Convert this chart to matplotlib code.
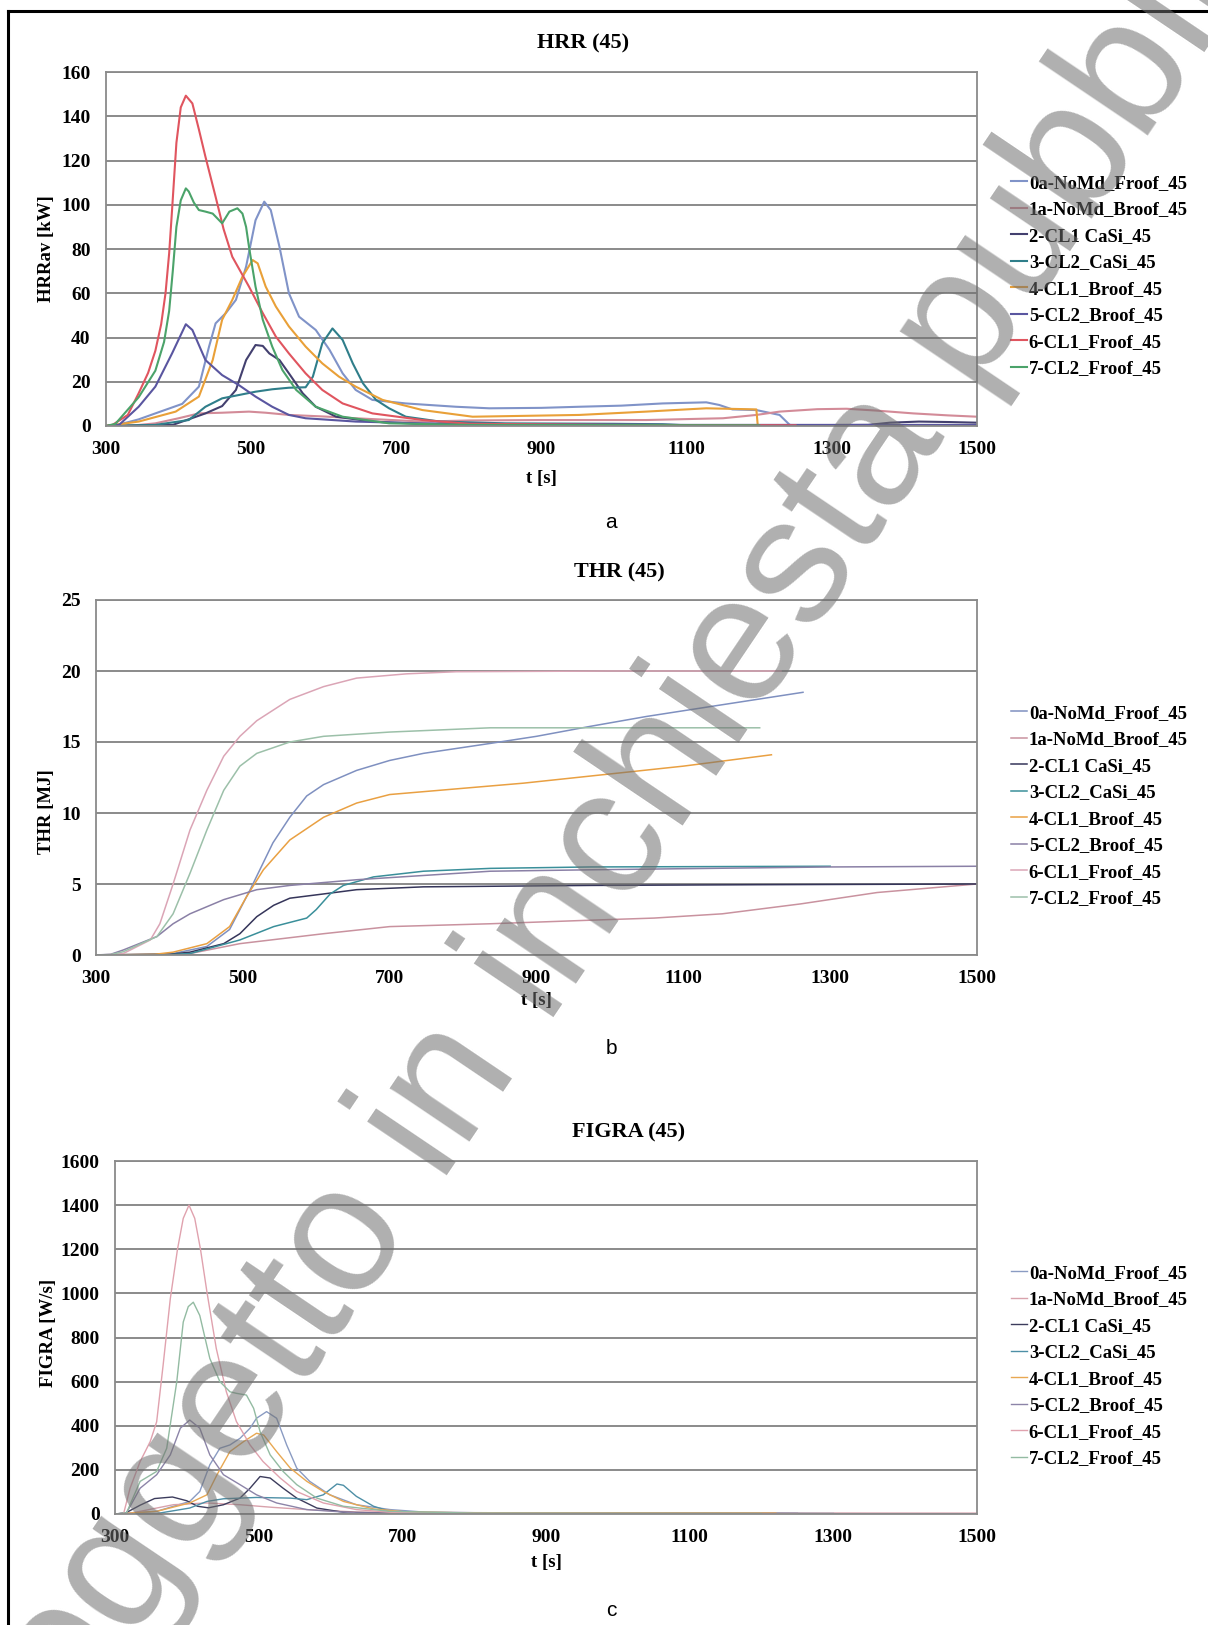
import matplotlib
matplotlib.use("Agg")
import matplotlib.pyplot as plt
from matplotlib.lines import Line2D

# ---- data: (t [s], value) pairs per specimen ----
labels = ["0a-NoMd_Froof_45", "1a-NoMd_Broof_45", "2-CL1 CaSi_45", "3-CL2_CaSi_45",
          "4-CL1_Broof_45", "5-CL2_Broof_45", "6-CL1_Froof_45", "7-CL2_Froof_45"]

# HRRav [kW]
hrr_0a = [(300, 0), (322, 1), (345, 3), (368, 5.7), (405, 10), (428, 17.8), (442, 35.9), (451, 46.4),
          (465, 51), (479, 57), (493, 72), (506, 93), (518, 101.4), (527, 97.6), (539, 81), (552, 60),
          (566, 49.4), (589, 43.4), (608, 34.4), (626, 23.8), (644, 16.3), (667, 11.8), (713, 10.2),
          (782, 8.7), (828, 8), (900, 8.2), (952, 8.7), (1010, 9.2), (1067, 10.2), (1127, 10.7),
          (1145, 9.5), (1163, 7.5), (1196, 7.2), (1228, 5), (1242, 0.5), (1260, 0)]
hrr_1a = [(300, 0), (340, 0.3), (368, 1.2), (400, 3.5), (428, 5.7), (460, 6), (497, 6.5), (520, 6),
          (552, 5), (600, 4.3), (644, 3.5), (700, 2.6), (736, 2), (800, 2.5), (900, 2.7), (1044, 2.7),
          (1150, 3.5), (1196, 5), (1228, 6.5), (1280, 7.6), (1320, 7.8), (1360, 7), (1412, 5.7),
          (1460, 4.8), (1500, 4.2)]
hrr_2 = [(300, 0), (360, 0.3), (392, 0.5), (437, 5.7), (460, 9), (479, 16.3), (493, 29.8), (506, 36.6),
         (516, 36.2), (525, 32.8), (539, 29.8), (552, 23.8), (571, 14.8), (589, 8.7), (617, 4.2),
         (667, 2), (736, 0.9), (900, 0.5), (1200, 0.3), (1350, 0.5), (1380, 1.5), (1420, 2),
         (1460, 1.8), (1500, 1.5)]
hrr_3 = [(300, 0), (368, 0.5), (414, 2.7), (437, 8.7), (460, 12.5), (483, 14), (506, 15.5), (529, 16.6),
         (552, 17.3), (575, 17.5), (585, 22.3), (598, 37.4), (612, 44.1), (626, 38.9), (640, 28.3),
         (654, 19.3), (672, 11.8), (690, 8), (713, 4.2), (760, 2), (850, 1.2), (1000, 1), (1067, 0.8),
         (1100, 0.3), (1300, 0.3)]
hrr_4 = [(300, 0), (345, 2), (396, 6.5), (428, 13.3), (447, 29.8), (460, 48), (474, 57), (488, 67.5),
         (502, 75), (509, 73.5), (520, 63), (534, 54), (552, 45), (575, 35.9), (598, 28.3), (621, 22.3),
         (644, 17.8), (681, 11.8), (736, 7.2), (805, 4.2), (860, 4.5), (952, 5), (1044, 6.5),
         (1127, 8), (1196, 7.5), (1198, 0), (1220, 0)]
hrr_5 = [(300, 0), (318, 0.5), (345, 8.7), (368, 17.8), (391, 32.8), (410, 46), (419, 43.4), (437, 29.8),
         (460, 23), (483, 18.5), (506, 13.3), (529, 8.7), (552, 5), (575, 3.5), (644, 2), (736, 1.2),
         (900, 0.8), (1100, 0.5), (1500, 0.5)]
hrr_6 = [(300, 0), (309, 0.5), (330, 5), (345, 14.8), (358, 24), (368, 34), (376, 46), (382, 60),
         (387, 78), (391, 97.6), (397, 128), (403, 144), (410, 149.3), (419, 145.8), (428, 134),
         (437, 121.7), (451, 103.6), (462, 89), (474, 76.5), (497, 63), (516, 51), (534, 40.4),
         (552, 32.8), (575, 23.8), (598, 16.3), (626, 10.2), (667, 5.7), (736, 2.7), (800, 1),
         (1000, 0.5), (1250, 0.3)]
hrr_7 = [(300, 0), (313, 1), (345, 13), (368, 25), (380, 38), (387, 52), (392, 70), (397, 90),
         (403, 102), (410, 107.4), (414, 106), (421, 101), (428, 97.6), (437, 96.9), (447, 96),
         (460, 91.6), (470, 96.9), (481, 98.4), (488, 96), (493, 90), (497, 81), (506, 63), (516, 48),
         (529, 35.9), (543, 25.3), (562, 16.3), (589, 8.7), (626, 4.2), (690, 1.2), (800, 0.5),
         (1200, 0.3)]

# THR [MJ]
thr_0a = [(300, 0), (360, 0.05), (405, 0.1), (451, 0.6), (482, 1.8), (510, 4.6), (541, 7.9), (564, 9.7),
          (587, 11.2), (610, 12), (655, 13), (700, 13.7), (746, 14.2), (837, 14.9), (900, 15.4),
          (973, 16.1), (1050, 16.8), (1150, 17.6), (1263, 18.5)]
thr_1a = [(300, 0), (380, 0.02), (428, 0.1), (496, 0.8), (610, 1.5), (700, 2), (837, 2.2), (973, 2.45),
          (1060, 2.6), (1153, 2.9), (1260, 3.6), (1364, 4.4), (1500, 5.0)]
thr_2 = [(300, 0), (400, 0.05), (428, 0.2), (474, 0.8), (496, 1.5), (519, 2.7), (542, 3.5), (564, 4),
         (610, 4.3), (655, 4.6), (746, 4.8), (973, 4.9), (1200, 4.95), (1500, 5.0)]
thr_3 = [(300, 0), (400, 0.03), (428, 0.1), (496, 1.06), (542, 2), (587, 2.6), (600, 3.2), (619, 4.3),
         (637, 4.9), (678, 5.5), (746, 5.9), (837, 6.1), (973, 6.2), (1300, 6.25)]
thr_4 = [(300, 0), (380, 0.05), (405, 0.2), (451, 0.8), (482, 2), (505, 4.1), (528, 6), (564, 8.1),
         (610, 9.7), (655, 10.7), (700, 11.3), (791, 11.7), (882, 12.1), (973, 12.6), (1100, 13.3),
         (1220, 14.1)]
thr_5 = [(300, 0), (320, 0.05), (337, 0.35), (383, 1.3), (405, 2.2), (428, 2.9), (474, 3.9), (519, 4.6),
         (564, 4.9), (655, 5.3), (746, 5.6), (837, 5.9), (973, 6.0), (1300, 6.2), (1500, 6.25)]
thr_6 = [(300, 0), (320, 0.03), (337, 0.1), (374, 1.06), (387, 2.2), (405, 5), (428, 8.8), (451, 11.6),
         (474, 14), (496, 15.4), (519, 16.5), (564, 18), (610, 18.9), (655, 19.5), (723, 19.8),
         (791, 19.95), (1000, 20), (1233, 20)]
thr_7 = [(300, 0), (320, 0.03), (337, 0.23), (383, 1.3), (405, 2.9), (428, 5.75), (451, 8.8), (474, 11.6),
         (496, 13.3), (519, 14.2), (564, 15), (610, 15.4), (700, 15.7), (837, 16), (973, 16), (1204, 16)]

# FIGRA [W/s]
fig_0a = [(300, 0), (358, 12), (404, 57), (418, 102), (432, 223), (446, 298), (460, 313), (474, 343),
          (488, 389), (497, 434), (511, 464), (525, 434), (539, 313), (553, 208), (571, 148), (599, 87),
          (636, 42), (683, 20), (729, 9), (800, 6), (1000, 5), (1250, 4)]
fig_1a = [(300, 0), (320, 3), (335, 12), (381, 42), (428, 50), (474, 42), (520, 30), (567, 20),
          (636, 9), (800, 6), (1000, 5), (1500, 4)]
fig_2 = [(300, 0), (315, 5), (335, 40), (355, 70), (380, 77), (400, 60), (415, 35), (430, 28), (451, 42),
         (474, 72), (488, 117), (502, 170), (516, 163), (534, 117), (553, 72), (581, 27), (618, 8),
         (700, 3), (1500, 1)]
fig_3 = [(300, 0), (358, 2), (404, 27), (428, 57), (451, 69), (497, 75), (544, 72), (567, 65), (590, 87),
         (609, 136), (618, 130), (636, 80), (660, 35), (683, 12), (750, 4), (1300, 2)]
fig_4 = [(300, 0), (358, 12), (404, 50), (428, 87), (442, 178), (460, 283), (479, 328), (497, 366),
         (507, 358), (525, 283), (544, 208), (567, 148), (590, 102), (618, 57), (660, 23), (706, 9),
         (800, 5), (1220, 4)]
fig_5 = [(300, 0), (316, 5), (335, 117), (358, 178), (377, 268), (391, 389), (404, 426), (418, 389),
         (432, 268), (451, 178), (474, 133), (497, 87), (525, 50), (567, 20), (636, 5), (800, 2),
         (1500, 1)]
fig_6 = [(300, 0), (312, 2), (321, 117), (335, 238), (349, 328), (358, 418), (367, 675), (377, 976),
         (387, 1200), (395, 1340), (403, 1400), (411, 1340), (419, 1200), (428, 1006), (441, 750),
         (455, 554), (469, 419), (488, 313), (506, 238), (530, 163), (553, 102), (590, 50), (636, 20),
         (683, 8), (750, 3), (1250, 1)]
fig_7 = [(300, 0), (316, 5), (335, 148), (358, 193), (372, 298), (386, 600), (395, 870), (402, 940),
         (409, 960), (418, 900), (432, 705), (446, 600), (460, 554), (469, 547), (483, 539), (493, 479),
         (502, 373), (516, 268), (534, 193), (553, 133), (581, 72), (618, 35), (683, 12), (800, 4),
         (1200, 2)]

hrr_colors = ["#8093c8", "#d38b98", "#43406f", "#2f7e8a", "#e9a038", "#5a56a0", "#e0555f", "#4ba36a"]
thr_colors = ["#7f90c0", "#c9929f", "#35355a", "#3a8f9a", "#e9a042", "#8a80a6", "#dba5b6", "#9cc0a9"]
figra_colors = ["#8a9bc2", "#d8a2ac", "#3c3c5c", "#4d8fa6", "#e8a852", "#8c84a8", "#e0a2ae", "#93bba2"]

W, H = 1208, 1625
fig = plt.figure(figsize=(W / 100, H / 100), dpi=100)
fig.patch.set_facecolor("white")

serif = "Liberation Serif"


def fx(x):
    return x / W


def fy(y):
    return 1 - y / H


def panel(box, series, colors, lw, ymax, ystep, title, tpos, ylabel, ypos, xlab_y, leg_y, tag, tag_y):
    left, top, right, bottom = box
    ax = fig.add_axes([fx(left), fy(bottom), (right - left) / W, (bottom - top) / H])
    for pts, c, lab in zip(series, colors, labels):
        t = [p[0] for p in pts]
        v = [p[1] for p in pts]
        ax.plot(t, v, color=c, lw=lw, label=lab, solid_joinstyle="round")
    ax.set_xlim(300, 1500)
    ax.set_ylim(0, ymax)
    ax.set_xticks(range(300, 1501, 200))
    ax.set_yticks([ystep * i for i in range(int(round(ymax / ystep)) + 1)])
    ax.yaxis.grid(True, color="#8a8a8a", lw=1.4)
    ax.set_axisbelow(True)
    for s in ax.spines.values():
        s.set_color("#8a8a8a")
        s.set_linewidth(1.3)
    ax.tick_params(length=0, pad=11)
    for lbl in ax.get_xticklabels() + ax.get_yticklabels():
        lbl.set_fontfamily(serif)
        lbl.set_fontweight("bold")
        lbl.set_fontsize(14)

    fig.text(fx(tpos[0]), fy(tpos[1]), title, ha="center", va="center",
             fontfamily=serif, fontweight="bold", fontsize=16)
    fig.text(fx(ypos[0]), fy(ypos[1]), ylabel, ha="center", va="center", rotation=90,
             fontfamily=serif, fontweight="bold", fontsize=13.5)
    fig.text(fx((left + right) / 2), fy(xlab_y), "t [s]", ha="center", va="center",
             fontfamily=serif, fontweight="bold", fontsize=13.5)
    fig.text(fx(611), fy(tag_y), tag, ha="center", va="center",
             fontfamily="Liberation Sans", fontsize=15)

    ax.legend(loc="center left", bbox_to_anchor=(fx(1011), fy(leg_y)), bbox_transform=fig.transFigure,
              frameon=False, borderpad=0, borderaxespad=0, handlelength=0.85, handletextpad=0.1,
              labelspacing=0.5, prop={"family": serif, "weight": "bold", "size": 13.5})
    return ax


panel((106, 72, 977, 426), [hrr_0a, hrr_1a, hrr_2, hrr_3, hrr_4, hrr_5, hrr_6, hrr_7], hrr_colors, 1.5,
      160, 20, "HRR (45)", (583, 43), "HRRav [kW]", (47, 249), 478, 276, "a", 523)
panel((96, 600, 977, 955), [thr_0a, thr_1a, thr_2, thr_3, thr_4, thr_5, thr_6, thr_7], thr_colors, 1.1,
      25, 5, "THR (45)", (619, 572), "THR [MJ]", (47, 812), 1001, 806, "b", 1049)
panel((115, 1161, 977, 1514), [fig_0a, fig_1a, fig_2, fig_3, fig_4, fig_5, fig_6, fig_7], figra_colors, 1.0,
      1600, 200, "FIGRA (45)", (629, 1132), "FIGRA [W/s]", (49, 1333), 1563, 1366, "c", 1611)

# page frame (top and left edges)
fig.add_artist(Line2D([fx(8), 1], [fy(11), fy(11)], color="black", lw=2.2, transform=fig.transFigure))
fig.add_artist(Line2D([fx(8), fx(8)], [fy(11), 0], color="black", lw=2.2, transform=fig.transFigure))

# diagonal stamp across the page
fig.text(fx(640), fy(805), "Soggetto in inchiesta pubblica", rotation=56, rotation_mode="anchor",
         ha="center", va="center", fontfamily="Liberation Sans", fontsize=130,
         color="#6e6e6e", alpha=0.55, zorder=100)

fig.savefig("out.png", dpi=100, facecolor="white")
